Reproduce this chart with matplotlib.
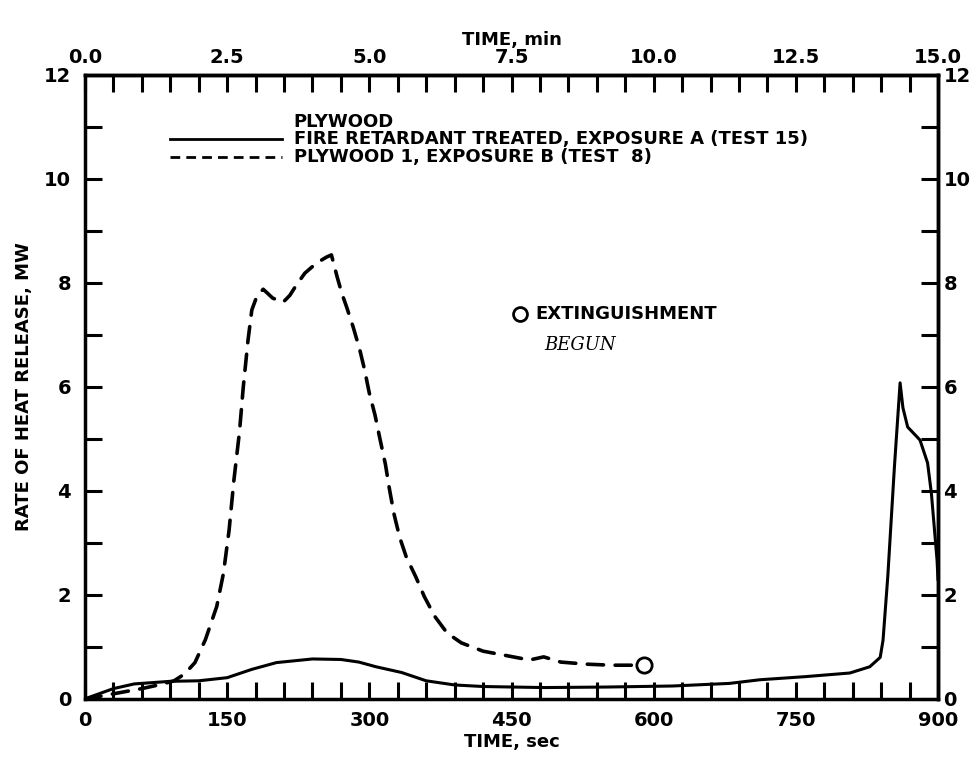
import matplotlib
matplotlib.use("Agg")
import matplotlib.pyplot as plt
import numpy as np

# ---- data ----
fr_time = [0, 4, 30, 52, 90, 120, 150, 176, 202, 240, 270, 289, 307, 334, 360, 390, 420,
           484, 550, 620, 680, 712, 760, 807, 828, 839, 842, 847, 854, 860, 863, 868, 881,
           889, 893, 899, 900]
fr_hrr = [0.0, 0.03, 0.2, 0.29, 0.34, 0.35, 0.41, 0.57, 0.70, 0.77, 0.76, 0.71, 0.62, 0.51,
          0.35, 0.27, 0.24, 0.22, 0.23, 0.25, 0.3, 0.37, 0.43, 0.5, 0.62, 0.8, 1.13, 2.35,
          4.46, 6.08, 5.6, 5.23, 4.98, 4.54, 3.96, 2.67, 2.3]

ply_time = [0, 30, 60, 80, 94, 105, 116, 127, 139, 146, 152, 157, 163, 167, 172, 176, 181,
            188, 198, 209, 216, 223, 232, 244, 255, 260, 266, 271, 276, 283, 290, 295, 300,
            306, 311, 317, 321, 326, 332, 339, 349, 358, 369, 382, 397, 420, 446, 469, 484,
            502, 529, 555, 577, 590]
ply_hrr = [0.0, 0.1, 0.2, 0.28, 0.35, 0.48, 0.70, 1.14, 1.78, 2.41, 3.24, 4.19, 5.14, 6.0,
           6.9, 7.48, 7.73, 7.88, 7.71, 7.63, 7.76, 7.96, 8.19, 8.38, 8.5, 8.54, 8.12, 7.8,
           7.54, 7.15, 6.71, 6.33, 5.88, 5.46, 5.02, 4.51, 4.06, 3.56, 3.11, 2.73, 2.35,
           1.97, 1.59, 1.27, 1.08, 0.92, 0.83, 0.75, 0.81, 0.71, 0.67, 0.65, 0.65, 0.65]

extinguish_time = [590]
extinguish_hrr = [0.65]

x_ticks = [0, 150, 300, 450, 600, 750, 900]
min_ticks = [0.0, 2.5, 5.0, 7.5, 10.0, 12.5, 15.0]
y_ticks = [0, 2, 4, 6, 8, 10, 12]

legend_title = "PLYWOOD"
label_fr = "FIRE RETARDANT TREATED, EXPOSURE A (TEST 15)"
label_ply = "PLYWOOD 1, EXPOSURE B (TEST  8)"

# ---- figure ----
plt.rcParams['font.family'] = ['DejaVu Sans']
plt.rcParams['font.weight'] = 'bold'
fig = plt.figure(figsize=(9.8, 7.65), dpi=100)
ax = fig.add_axes([85/980, 66/765, 853/980, 624/765])

ax.plot(fr_time, fr_hrr, color='black', lw=2.2, solid_joinstyle='round')
ax.plot(ply_time, ply_hrr, color='black', lw=2.6, linestyle=(0, (4.5, 3.2)),
        dash_capstyle='round')
ax.plot(extinguish_time, extinguish_hrr, marker='o', ms=11, mfc='white', mec='black',
        mew=2.0, linestyle='none')

ax.set_xlim(0, 900)
ax.set_ylim(0, 12)
for s in ax.spines.values():
    s.set_linewidth(2.5)

ax.set_xticks(x_ticks)
ax.set_xticks(np.arange(0, 901, 30), minor=True)
ax.set_yticks(y_ticks)
ax.set_yticks(np.arange(0, 13, 1), minor=True)
ax.set_xticklabels([str(v) for v in x_ticks])
ax.set_yticklabels([str(v) for v in y_ticks])

ax.tick_params(which='both', direction='in', length=12, width=2.2,
               top=False, right=False, labelsize=14)
ax.tick_params(axis='x', which='both', pad=9)
ax.tick_params(axis='y', which='both', pad=10)

ax.set_xlabel("TIME, sec", fontsize=13, fontweight='bold', labelpad=2)
ax.set_ylabel("RATE OF HEAT RELEASE, MW", fontsize=13, fontweight='bold', labelpad=8)

# right axis (same MW scale)
right = ax.secondary_yaxis('right')
right.set_yticks(y_ticks)
right.set_yticks(np.arange(0, 13, 1), minor=True)
right.set_yticklabels([str(v) for v in y_ticks])
right.tick_params(which='both', direction='in', length=12, width=2.2, labelsize=14, pad=4)
right.spines['right'].set_linewidth(2.5)

# top axis in minutes
top = ax.secondary_xaxis('top', functions=(lambda s: s / 60.0, lambda m: m * 60.0))
top.set_xticks(min_ticks)
top.set_xticks(np.arange(0, 15.01, 0.5), minor=True)
top.set_xticklabels([f"{v:.1f}" for v in min_ticks])
top.tick_params(which='both', direction='in', length=12, width=2.2, labelsize=14, pad=6)
top.spines['top'].set_linewidth(2.5)
top.set_xlabel("TIME, min", fontsize=13, fontweight='bold', labelpad=2)

# legend drawn as lines + text in axes data coordinates
ax.text(220, 11.1, legend_title, fontsize=13, fontweight='bold', va='center', ha='left')
ax.plot([90, 208], [10.76, 10.76], color='black', lw=2.0)
ax.text(220, 10.76, label_fr, fontsize=13, fontweight='bold', va='center', ha='left')
ax.plot([90, 208], [10.42, 10.42], color='black', lw=2.0, linestyle=(0, (3.5, 2.2)))
ax.text(220, 10.42, label_ply, fontsize=13, fontweight='bold', va='center', ha='left')

# extinguishment note
ax.plot([459], [7.4], marker='o', ms=10, mfc='white', mec='black', mew=2.0)
ax.text(475, 7.4, "EXTINGUISHMENT", fontsize=13, fontweight='bold', va='center', ha='left')
ax.text(485, 6.8, "BEGUN", fontsize=13, fontstyle='italic', fontweight='normal',
        family='DejaVu Serif', va='center', ha='left')

fig.savefig("out.png", dpi=100)
